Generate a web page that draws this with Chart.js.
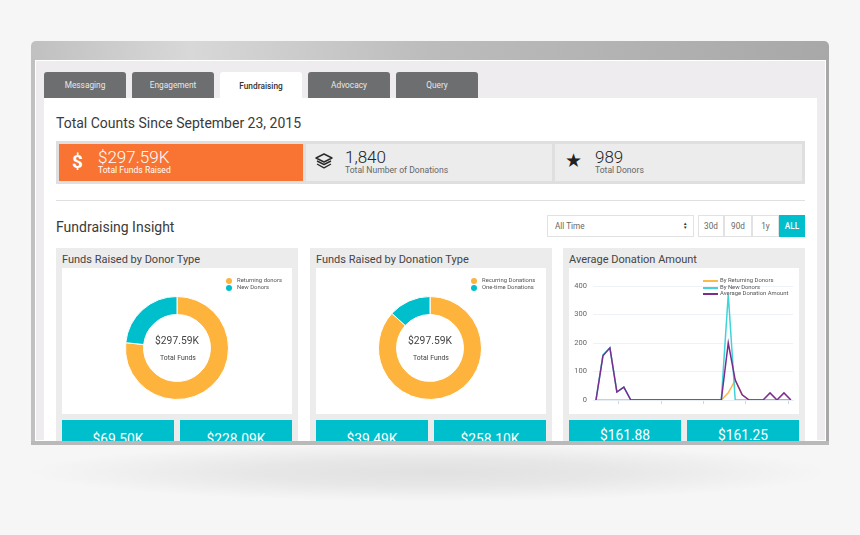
<!DOCTYPE html>
<html>
<head>
<meta charset="utf-8">
<script src="https://cdn.jsdelivr.net/npm/chart.js@4/dist/chart.umd.js"></script>
<style>
html, body { margin: 0; padding: 0; width: 860px; height: 535px; overflow: hidden; background: #f6f6f6; font-family: Roboto, sans-serif; color: #3a3a3a; }
#page { position: absolute; left: 0; top: 0; width: 860px; height: 535px; filter: blur(0.5px); }
.abs, .tab, .panel, .card, .teal, .t { position: absolute; }
.t { white-space: nowrap; line-height: 1; }
.tab { top: 72px; width: 82px; height: 26px; background: #6d6e70; border-radius: 3px 3px 0 0; color: #e8e8e8; font-size: 8.3px; text-align: center; line-height: 27px; }
.tab.on { background: #fff; color: #333; height: 27px; line-height: 29px; font-weight: 500; }
.panel { top: 248px; width: 242px; height: 193px; background: #ececec; }
.card { top: 268px; width: 230px; height: 146px; background: #fff; }
.card canvas { position: absolute; left: 0; top: 0; }
.teal { top: 420px; width: 112px; height: 21px; background: #00bfcc; overflow: hidden; color: #fff; font-size: 13.8px; text-align: center; }
.btn { position: absolute; top: 215px; height: 22px; background: #fff; border: 1px solid #e2e2e2; box-sizing: border-box; font-size: 8.2px; line-height: 20px; text-align: center; color: #666; }
.dot { position: absolute; width: 6px; height: 6px; border-radius: 50%; }
.swatch { position: absolute; width: 15px; height: 2px; }
.lg { position: absolute; font-size: 5.9px; line-height: 1; white-space: nowrap; color: #555; }
.big { font-size: 17px; font-weight: 300; }
</style>
</head>
<body>
<div id="page">
  <!-- shadow under the frame -->
  <div class="abs" style="left:30px;top:445px;width:800px;height:58px;background:radial-gradient(ellipse 50% 50% at 50% 47%, #e1e1e1 0%, #e7e7e7 45%, #f6f6f6 100%)"></div>
  <!-- frame -->
  <div class="abs" style="left:31px;top:41px;width:798px;height:404px;border-radius:5px 5px 0 0;background:linear-gradient(90deg,#c0c0c0 0%,#d8d8d8 20%,#bcbcbc 50%,#a8a8a8 100%)"></div>
  <div class="abs" style="left:35px;top:60px;width:791px;height:381px;background:#eeecee;border:1px solid #fff;box-sizing:border-box"></div>
  <div class="abs" style="left:31px;top:441px;width:798px;height:4px;background:#b9b9b9"></div>
  <div class="abs" style="left:44px;top:98px;width:773px;height:343px;background:#fff"></div>

  <div class="tab" style="left:44px">Messaging</div>
  <div class="tab" style="left:132px">Engagement</div>
  <div class="tab on" style="left:220px">Fundraising</div>
  <div class="tab" style="left:308px">Advocacy</div>
  <div class="tab" style="left:396px">Query</div>

  <div class="t" style="left:56px;top:116px;font-size:14px">Total Counts Since September 23, 2015</div>

  <!-- stat bar -->
  <div class="abs" style="left:56px;top:141px;width:749px;height:43px;background:#dfdfdf"></div>
  <div class="abs" style="left:59px;top:144px;width:244px;height:37px;background:#f97432"></div>
  <div class="abs" style="left:306px;top:144px;width:246px;height:37px;background:#ececec"></div>
  <div class="abs" style="left:555px;top:144px;width:247px;height:37px;background:#ececec"></div>
  <div class="t" style="left:72px;top:152px;font-size:19px;font-weight:700;color:#fff">$</div>
  <div class="t big" style="left:98px;top:149px;color:#fff">$297.59K</div>
  <div class="t" style="left:98px;top:166px;font-size:8.6px;color:#fff">Total Funds Raised</div>
  <svg class="abs" style="left:315px;top:153px" width="18" height="17" viewBox="0 0 18 17" fill="none" stroke="#2b2b2b" stroke-width="1.4" stroke-linejoin="round">
    <path d="M9 1 L17 5 L9 9 L1 5 Z"/><path d="M2 8 L9 11.5 L16 8"/><path d="M2 11 L9 14.8 L16 11"/>
  </svg>
  <div class="t big" style="left:345px;top:149px;color:#222">1,840</div>
  <div class="t" style="left:345px;top:166px;font-size:8.6px;color:#666">Total Number of Donations</div>
  <div class="t" style="left:565px;top:151px;font-size:19px;color:#222;font-family:'DejaVu Sans'">★</div>
  <div class="t big" style="left:595px;top:149px;color:#222">989</div>
  <div class="t" style="left:595px;top:166px;font-size:8.6px;color:#666">Total Donors</div>

  <div class="abs" style="left:56px;top:200px;width:749px;height:1px;background:#e0e0e0"></div>
  <div class="t" style="left:56px;top:220px;font-size:14px">Fundraising Insight</div>

  <!-- range controls -->
  <div class="btn" style="left:547px;width:147px;text-align:left;padding-left:7px">All Time</div>
  <div class="t" style="left:683px;top:222px;font-size:4.5px;line-height:4px;color:#333;white-space:normal;width:6px">▲<br>▼</div>
  <div class="btn" style="left:698px;width:26px">30d</div>
  <div class="btn" style="left:724px;width:28px">90d</div>
  <div class="btn" style="left:752px;width:27px">1y</div>
  <div class="btn" style="left:779px;width:26px;background:#00bfcc;border-color:#00bfcc;color:#fff;font-weight:500">ALL</div>

  <!-- panel 1 -->
  <div class="panel" style="left:56px"></div>
  <div class="t" style="left:62px;top:254px;font-size:11px;color:#444">Funds Raised by Donor Type</div>
  <div class="card" style="left:62px"><canvas id="donorChart" width="230" height="146"></canvas></div>
  <div class="dot" style="left:226px;top:278px" data-color="0"></div>
  <div class="dot" style="left:226px;top:285px" data-color="1"></div>
  <div class="lg" id="donorLg0" style="left:237px;top:278px"></div>
  <div class="lg" id="donorLg1" style="left:237px;top:285px"></div>
  <div class="t" style="left:127px;top:336px;width:100px;text-align:center;font-size:10.3px;color:#444">$297.59K</div>
  <div class="t" style="left:128px;top:355px;width:100px;text-align:center;font-size:6.9px;color:#444">Total Funds</div>
  <div class="teal" style="left:62px"><div style="margin-top:11px">$69.50K</div></div>
  <div class="teal" style="left:180px"><div style="margin-top:11px">$228.09K</div></div>

  <!-- panel 2 -->
  <div class="panel" style="left:310px"></div>
  <div class="t" style="left:316px;top:254px;font-size:11px;color:#444">Funds Raised by Donation Type</div>
  <div class="card" style="left:316px"><canvas id="donationChart" width="230" height="146"></canvas></div>
  <div class="dot" style="left:471px;top:278px" data-color="0"></div>
  <div class="dot" style="left:471px;top:285px" data-color="1"></div>
  <div class="lg" id="donationLg0" style="left:482px;top:278px"></div>
  <div class="lg" id="donationLg1" style="left:482px;top:285px"></div>
  <div class="t" style="left:380px;top:336px;width:100px;text-align:center;font-size:10.3px;color:#444">$297.59K</div>
  <div class="t" style="left:381px;top:355px;width:100px;text-align:center;font-size:6.9px;color:#444">Total Funds</div>
  <div class="teal" style="left:316px"><div style="margin-top:11px">$39.49K</div></div>
  <div class="teal" style="left:434px"><div style="margin-top:11px">$258.10K</div></div>

  <!-- panel 3 -->
  <div class="panel" style="left:563px"></div>
  <div class="t" style="left:569px;top:254px;font-size:11px;color:#444">Average Donation Amount</div>
  <div class="card" style="left:569px"><canvas id="avgChart" width="230" height="146"></canvas></div>
  <div class="swatch" style="left:703px;top:280px" data-line="0"></div>
  <div class="swatch" style="left:703px;top:286.5px" data-line="1"></div>
  <div class="swatch" style="left:703px;top:293px" data-line="2"></div>
  <div class="lg" id="avgLg0" style="left:720px;top:278px"></div>
  <div class="lg" id="avgLg1" style="left:720px;top:284.5px"></div>
  <div class="lg" id="avgLg2" style="left:720px;top:291px"></div>
  <div class="teal" style="left:569px"><div style="margin-top:7px">$161.88</div></div>
  <div class="teal" style="left:687px"><div style="margin-top:7px">$161.25</div></div>
</div>

<script>
const donorLabels = ['Returning donors', 'New Donors'];
const donorValues = [228.09, 69.50];
const donationLabels = ['Recurring Donations', 'One-time Donations'];
const donationValues = [258.10, 39.49];
const donutColors = ['#fdb33c', '#00bfcc'];

const avgLabels = [0,1,2,3,4,5,6,7,8,9,10,11,12,13,14,15,16,17,18,19,20,21,22,23,24,25,26,27,28];
const returningValues = [0,0,0,0,0,0,0,0,0,0,0,0,0,0,0,0,0,0,0,25,70,18,0,0,0,0,0,0,0];
const newValues = [0,158,183,28,45,0,0,0,0,0,0,0,0,0,0,0,0,0,0,370,0,0,0,0,0,0,0,0,0];
const averageValues = [0,155,183,28,45,0,0,0,0,0,0,0,0,0,0,0,0,0,0,200,70,18,0,0,0,25,0,25,0];
const avgSeriesNames = ['By Returning Donors', 'By New Donors', 'Average Donation Amount'];
const lineColors = ['#fdb84a', '#3fd3da', '#7b2d8e'];
const yTicks = [0, 100, 200, 300, 400];
const xTickPositions = [3.3, 9.35, 15.5, 21.5, 27.7];

function makeDonut(id, labels, values, rightPad) {
  new Chart(document.getElementById(id), {
    type: 'doughnut',
    data: { labels: labels, datasets: [{ data: values, backgroundColor: donutColors, borderColor: '#fff', borderWidth: 1 }] },
    options: {
      responsive: false,
      animation: false,
      cutout: '65%',
      layout: { padding: { top: 28, bottom: 14, right: rightPad } },
      plugins: { legend: { display: false }, tooltip: { enabled: false } }
    }
  });
}

makeDonut('donorChart', donorLabels, donorValues, 0);
makeDonut('donationChart', donationLabels, donationValues, 2);

new Chart(document.getElementById('avgChart'), {
  type: 'line',
  data: {
    labels: avgLabels,
    datasets: [
      { label: avgSeriesNames[0], data: returningValues, borderColor: lineColors[0], order: 3 },
      { label: avgSeriesNames[1], data: newValues, borderColor: lineColors[1], order: 2 },
      { label: avgSeriesNames[2], data: averageValues, borderColor: lineColors[2], order: 1 }
    ]
  },
  options: {
    responsive: false,
    animation: false,
    elements: { point: { radius: 0 }, line: { borderWidth: 1.5, tension: 0 } },
    layout: { padding: { top: 18, right: 6, left: 0, bottom: 0 } },
    plugins: { legend: { display: false }, tooltip: { enabled: false } },
    scales: {
      x: {
        type: 'linear',
        min: -0.43,
        max: 28.3,
        afterBuildTicks: function (scale) { scale.ticks = xTickPositions.map(v => ({ value: v })); },
        afterFit: function (scale) { scale.height = 14; },
        ticks: { display: false },
        border: { color: '#e6edf3' },
        grid: { drawOnChartArea: false, tickLength: 4, color: '#cfd6dc' }
      },
      y: {
        min: 0,
        max: 400,
        afterBuildTicks: function (scale) { scale.ticks = yTicks.map(v => ({ value: v })); },
        afterFit: function (scale) { scale.width = 24; },
        ticks: { color: '#666', font: { family: 'Roboto', size: 7.5 }, padding: 6 },
        border: { display: false },
        grid: { color: '#eef2f6', drawTicks: false }
      }
    }
  }
});

// html legends, the reference sets them inside the plot
donorLabels.forEach((t, i) => { document.getElementById('donorLg' + i).textContent = t; });
donationLabels.forEach((t, i) => { document.getElementById('donationLg' + i).textContent = t; });
avgSeriesNames.forEach((t, i) => { document.getElementById('avgLg' + i).textContent = t; });
document.querySelectorAll('[data-color]').forEach(el => { el.style.background = donutColors[+el.dataset.color]; });
document.querySelectorAll('[data-line]').forEach(el => { el.style.background = lineColors[+el.dataset.line]; });
</script>
</body>
</html>
